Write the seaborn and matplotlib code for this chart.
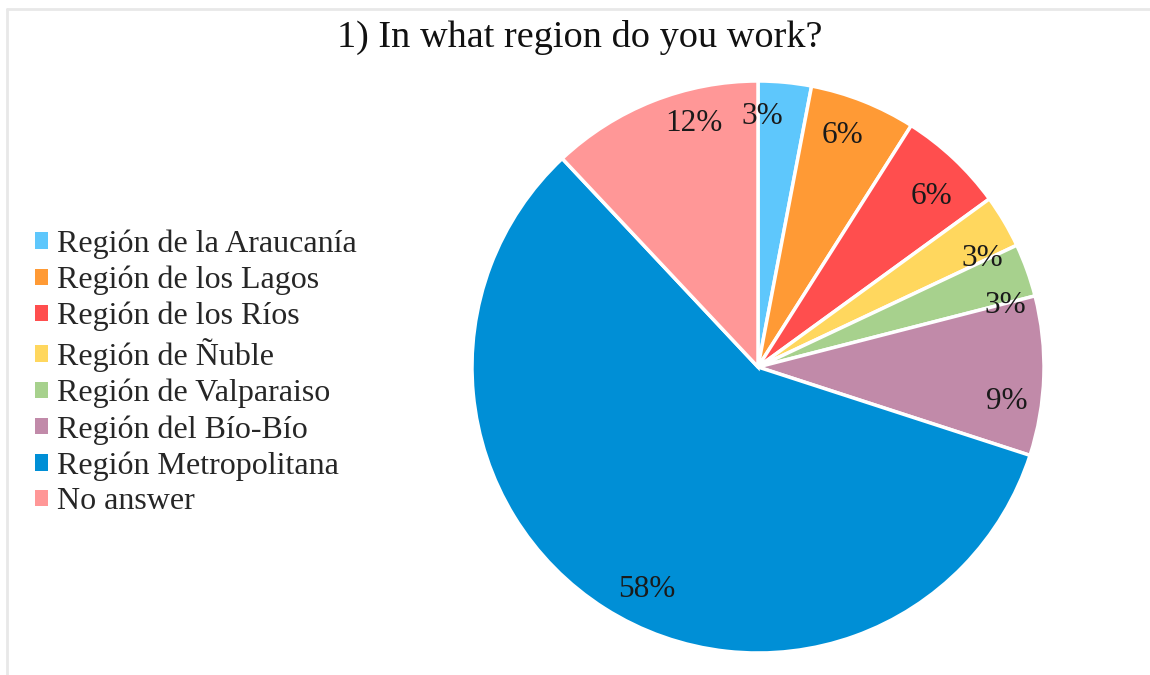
import matplotlib
matplotlib.use("Agg")
import numpy as np
import matplotlib.pyplot as plt
from matplotlib.lines import Line2D
import seaborn as sns

# Survey answers: share of respondents per region (%)
regions = [
    "Región de la Araucanía",
    "Región de los Lagos",
    "Región de los Ríos",
    "Región de Ñuble",
    "Región de Valparaiso",
    "Región del Bío-Bío",
    "Región Metropolitana",
    "No answer",
]
shares = [3, 6, 6, 3, 3, 9, 58, 12]
colors = ["#5EC7FC", "#FF9A35", "#FF4E4E", "#FFD75E",
          "#A7D18D", "#C18AA9", "#008FD6", "#FF9797"]

# label placement tweaks: angular shift (deg, clockwise) and radial distance
label_shift = [-4.3, -1.6, 2.3, 4.7, 5.8, 6.1, -5.9, 6.9]
label_dist = [0.875, 0.86, 0.85, 0.87, 0.89, 0.88, 0.87, 0.88]

sns.set_theme(style="white")
plt.rcParams["font.family"] = ["Liberation Serif", "DejaVu Serif"]

fig = plt.figure(figsize=(11.5, 6.75), dpi=100)
fig.patch.set_facecolor("white")

# light frame along top and left edges
fig.add_artist(Line2D([6.5 / 1150, 1.0], [1 - 9 / 675, 1 - 9 / 675],
                      transform=fig.transFigure, color="#e8e8e8", lw=2))
fig.add_artist(Line2D([6.5 / 1150, 6.5 / 1150], [0.0, 1 - 9 / 675],
                      transform=fig.transFigure, color="#e8e8e8", lw=2))

cx, cy, r = 758, 367, 286
ax = fig.add_axes([(cx - r) / 1150, (675 - cy - r) / 675, 2 * r / 1150, 2 * r / 675])
palette = sns.color_palette(colors)

wedges, texts, autotexts = ax.pie(
    shares,
    colors=palette,
    startangle=90,
    counterclock=False,
    autopct=lambda p: f"{p:.0f}%",
    pctdistance=0.89,
    wedgeprops=dict(edgecolor="white", linewidth=2.5),
    textprops=dict(fontsize=22.5, color="#1a1a1a"),
)
for w, t, dth, d in zip(wedges, autotexts, label_shift, label_dist):
    mid = np.deg2rad((w.theta1 + w.theta2) / 2 - dth)
    t.set_position((d * np.cos(mid), d * np.sin(mid)))

ax.set_xlim(-1, 1)
ax.set_ylim(-1, 1)
ax.set_aspect("equal")

fig.text(580 / 1150, 1 - 37 / 675, "1) In what region do you work?",
         ha="center", va="center", fontsize=27.5, color="#111111")

leg = fig.legend(
    wedges, regions,
    loc="center left",
    bbox_to_anchor=(35 / 1150, 1 - 373 / 675),
    frameon=False,
    fontsize=23,
    handlelength=0.42,
    handleheight=0.42,
    handletextpad=0.26,
    labelspacing=0.21,
    borderaxespad=0,
    borderpad=0,
)
for h in leg.legend_handles:
    h.set_linewidth(0)

fig.savefig("out.png", dpi=100, facecolor="white")
